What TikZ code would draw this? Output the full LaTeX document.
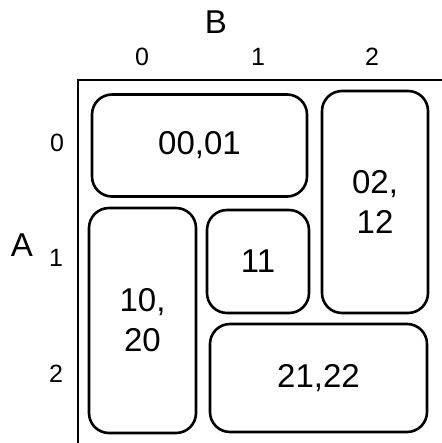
\documentclass[tikz,border=0pt]{standalone}
\usepackage{fontspec}
\setmainfont{Liberation Sans}
\begin{document}
\begin{tikzpicture}[x=1pt,y=-1pt,
  grp/.style={draw, line width=2.6pt, rounded corners=20pt, inner sep=0pt, align=center,
    font=\fontsize{33}{40}\selectfont},
  axlab/.style={inner sep=0pt, font=\fontsize{25}{30}\selectfont},
  varlab/.style={inner sep=0pt, font=\fontsize{33}{40}\selectfont}]
\useasboundingbox (0,0) rectangle (441,443);
% frame
\coordinate (fb) at (78,445);
\coordinate (fc) at (78,80);
\coordinate (fr) at (443,80);
\draw[line width=2.6pt] (fb) -- (fc) -- (fr);
% variable labels
\node[varlab] (B) at (216,22) {B};
\node[varlab] (A) at (22,245) {A};
% column labels
\node[axlab] (c0) at (142,57) {0};
\node[axlab] (c1) at (258,57) {1};
\node[axlab] (c2) at (372,57) {2};
% row labels
\node[axlab] (r0) at (57,143) {0};
\node[axlab] (r1) at (56,258) {1};
\node[axlab] (r2) at (56,374) {2};
% groups
\node[grp, minimum width=215pt, minimum height=102pt] (g0001) at (199.5,145.5) {00,01};
\node[grp, minimum width=106pt, minimum height=222pt] (g0212) at (375,202) {02,\\12};
\node[grp, minimum width=107pt, minimum height=225pt] (g1020) at (142.5,320.5) {10,\\20};
\node[grp, minimum width=102pt, minimum height=103pt] (g11) at (258,261.5) {11};
\node[grp, minimum width=217pt, minimum height=108pt] (g2122) at (318.5,378) {21,22};
\end{tikzpicture}
\end{document}
